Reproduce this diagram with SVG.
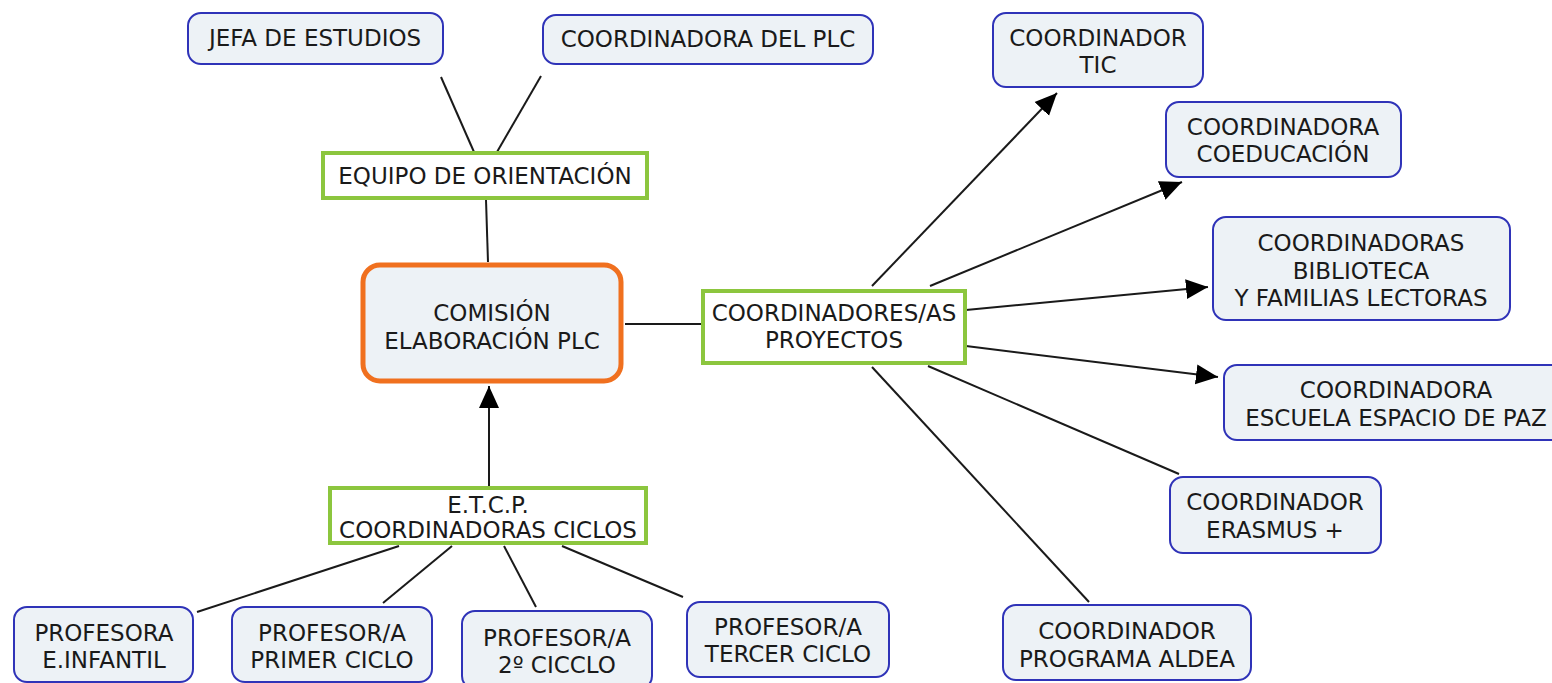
<svg xmlns="http://www.w3.org/2000/svg" width="1552" height="683" viewBox="0 0 1552 683">
<style>
.bg{fill:#ffffff}
.blue{fill:#edf2f6;stroke:#2f33b8;stroke-width:2}
.green{fill:#ffffff;stroke:#8cc63e;stroke-width:4}
.orange{fill:#edf2f6;stroke:#f0701f;stroke-width:5}
text{font-family:"DejaVu Sans","Liberation Sans",sans-serif;font-size:23px;fill:#1a1a1a;text-anchor:middle}
.ln{stroke:#1a1a1a;stroke-width:2;fill:none}
.arr{stroke:#1a1a1a;stroke-width:2;fill:none;marker-end:url(#ah)}
</style>
<defs>
<marker id="ah" markerUnits="userSpaceOnUse" markerWidth="24" markerHeight="22" refX="22" refY="11" orient="auto">
<path d="M0,1 L22,11 L0,21 Z" fill="#000000"/>
</marker>
</defs>
<rect class="bg" x="0" y="0" width="1552" height="683"/>
<g id="connectors">
<line class="ln" x1="441" y1="77" x2="474" y2="152"/>
<line class="ln" x1="541" y1="76" x2="497" y2="152"/>
<line class="ln" x1="486" y1="200" x2="488" y2="262"/>
<line class="ln" x1="625" y1="324" x2="702" y2="324"/>
<line class="arr" x1="489" y1="486" x2="489" y2="386"/>
<line class="ln" x1="399" y1="546" x2="197" y2="612"/>
<line class="ln" x1="452" y1="546" x2="383" y2="603"/>
<line class="ln" x1="504" y1="546" x2="536" y2="607"/>
<line class="ln" x1="562" y1="546" x2="683" y2="597"/>
<line class="arr" x1="872" y1="286" x2="1057" y2="93"/>
<line class="arr" x1="930" y1="286" x2="1182" y2="182"/>
<line class="arr" x1="966" y1="310" x2="1208" y2="287"/>
<line class="arr" x1="966" y1="346" x2="1218" y2="377"/>
<line class="ln" x1="928" y1="366" x2="1179" y2="474"/>
<line class="ln" x1="872" y1="367" x2="1089" y2="602"/>
</g>
<g id="jefa">
<rect class="blue" x="188" y="13" width="255" height="51" rx="13"/>
<text x="315" y="46">JEFA DE ESTUDIOS</text>
</g>
<g id="coordplc">
<rect class="blue" x="543" y="15" width="330" height="49" rx="13"/>
<text x="708" y="47">COORDINADORA DEL PLC</text>
</g>
<g id="equipo">
<rect class="green" x="323" y="153" width="324" height="45"/>
<text x="485" y="184">EQUIPO DE ORIENTACIÓN</text>
</g>
<g id="comision">
<rect class="orange" x="363" y="265" width="258" height="116" rx="17"/>
<text x="492" y="321">COMISIÓN</text>
<text x="492" y="349">ELABORACIÓN PLC</text>
</g>
<g id="proyectos">
<rect class="green" x="703" y="291" width="262" height="72"/>
<text x="834" y="321">COORDINADORES/AS</text>
<text x="834" y="348">PROYECTOS</text>
</g>
<g id="etcp">
<rect class="green" x="330" y="488" width="316" height="55"/>
<text x="488" y="513">E.T.C.P.</text>
<text x="488" y="538">COORDINADORAS CICLOS</text>
</g>
<g id="infantil">
<rect class="blue" x="14" y="607" width="179" height="75" rx="13"/>
<text x="104" y="641">PROFESORA</text>
<text x="104" y="668">E.INFANTIL</text>
</g>
<g id="primer">
<rect class="blue" x="232" y="607" width="200" height="75" rx="13"/>
<text x="332" y="641">PROFESOR/A</text>
<text x="332" y="668">PRIMER CICLO</text>
</g>
<g id="segundo">
<rect class="blue" x="462" y="611" width="190" height="78" rx="13"/>
<text x="557" y="646">PROFESOR/A</text>
<text x="557" y="673">2º CICCLO</text>
</g>
<g id="tercer">
<rect class="blue" x="687" y="602" width="202" height="75" rx="13"/>
<text x="788" y="635">PROFESOR/A</text>
<text x="788" y="662">TERCER CICLO</text>
</g>
<g id="tic">
<rect class="blue" x="993" y="13" width="210" height="74" rx="13"/>
<text x="1098" y="46">COORDINADOR</text>
<text x="1098" y="73">TIC</text>
</g>
<g id="coeducacion">
<rect class="blue" x="1166" y="102" width="235" height="75" rx="13"/>
<text x="1283" y="135">COORDINADORA</text>
<text x="1283" y="162">COEDUCACIÓN</text>
</g>
<g id="biblioteca">
<rect class="blue" x="1213" y="217" width="297" height="103" rx="13"/>
<text x="1361" y="251">COORDINADORAS</text>
<text x="1361" y="279">BIBLIOTECA</text>
<text x="1361" y="306">Y FAMILIAS LECTORAS</text>
</g>
<g id="paz">
<rect class="blue" x="1224" y="365" width="345" height="75" rx="13"/>
<text x="1396" y="398">COORDINADORA</text>
<text x="1396" y="426">ESCUELA ESPACIO DE PAZ</text>
</g>
<g id="erasmus">
<rect class="blue" x="1170" y="477" width="211" height="76" rx="13"/>
<text x="1275" y="510">COORDINADOR</text>
<text x="1275" y="538">ERASMUS +</text>
</g>
<g id="aldea">
<rect class="blue" x="1003" y="605" width="248" height="75" rx="13"/>
<text x="1127" y="639">COORDINADOR</text>
<text x="1127" y="667">PROGRAMA ALDEA</text>
</g>
</svg>
